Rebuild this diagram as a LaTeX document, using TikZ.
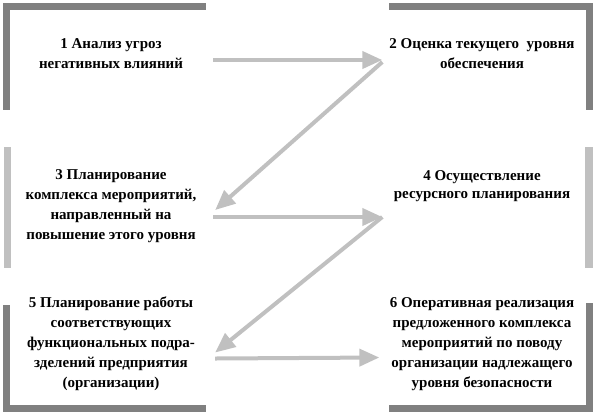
\documentclass[tikz,border=0pt]{standalone}
\usepackage{fontspec}
\setmainfont{Liberation Serif}
\usetikzlibrary{arrows.meta}
\definecolor{lightgrey}{RGB}{192,192,192}
\definecolor{checkgrey}{RGB}{128,128,128}
\tikzset{
  frame/.style={minimum width=203pt, inner sep=0pt},
  label/.style={align=center, font=\fontsize{15}{20}\selectfont\bfseries},
  hatch/.style={fill=checkgrey, draw=none},
  solid bar/.style={fill=lightgrey, draw=none},
  arr/.style={draw=lightgrey, line width=4pt,
    -{Triangle[length=20pt,width=17pt,fill=lightgrey]}}
}
\begin{document}
\begin{tikzpicture}[x=1pt,y=-1pt]
  \useasboundingbox (0,0) rectangle (596,416);
  % frames of the six steps
  \node[frame, minimum height=107pt] (f1) at (104.5,56.5) {};
  \node[frame, minimum height=107pt] (f2) at (491,56.5) {};
  \node[frame, minimum height=121pt] (f3) at (104.5,207.5) {};
  \node[frame, minimum height=121pt] (f4) at (491,207.5) {};
  \node[frame, minimum height=107pt] (f5) at (104.5,358.5) {};
  \node[frame, minimum height=109pt] (f6) at (491,357.5) {};
  % borders
  \fill[hatch] (f1.north west) rectangle ([xshift=7pt]f1.south west);
  \fill[hatch] (f1.north west) rectangle ([yshift=-7pt]f1.north east);
  \fill[hatch] (f2.north east) rectangle ([xshift=-7pt]f2.south east);
  \fill[hatch] (f2.north west) rectangle ([yshift=-7pt]f2.north east);
  \fill[solid bar] ([xshift=1pt]f3.north west) rectangle ([xshift=8pt]f3.south west);
  \fill[solid bar] (f4.north east) rectangle ([xshift=-8pt]f4.south east);
  \fill[hatch] (f5.north west) rectangle ([xshift=7pt]f5.south west);
  \fill[hatch] (f5.south west) rectangle ([yshift=7pt]f5.south east);
  \fill[hatch] (f6.north east) rectangle ([xshift=-7pt]f6.south east);
  \fill[hatch] (f6.south west) rectangle ([yshift=7pt]f6.south east);
  % texts
  \node[label] (t1) at (111,54) {1 Анализ угроз\\негативных влияний};
  \node[label] (t2) at (482,54) {2 Оценка текущего\ \ уровня\\обеспечения};
  \node[label] (t3) at (111,206) {3 Планирование\\комплекса мероприятий,\\направленный на\\повышение этого уровня};
  \node[label, font=\fontsize{15}{18}\selectfont\bfseries] (t4) at (482,186) {4 Осуществление\\ресурсного планирования};
  \node[label] (t5) at (111,344) {5 Планирование работы\\соответствующих\\функциональных подра-\\зделений предприятия\\(организации)};
  \node[label] (t6) at (482,344) {6 Оперативная реализация\\предложенного комплекса\\мероприятий по поводу\\организации надлежащего\\уровня безопасности};
  % zigzag of arrows
  \draw[arr] ([xshift=7pt,yshift=-3.5pt]f1.east) -- ([xshift=-7pt,yshift=-3.5pt]f2.west);
  \draw[arr] ([xshift=-7pt,yshift=-5.5pt]f2.west) -- ([xshift=9pt,yshift=-2.5pt]f3.east);
  \draw[arr] ([xshift=7pt,yshift=-9.5pt]f3.east) -- ([xshift=-7pt,yshift=-9.5pt]f4.west);
  \draw[arr] ([xshift=-7pt,yshift=-9.5pt]f4.west) -- ([xshift=9pt,yshift=6pt]f5.east);
  \draw[arr] ([xshift=9pt]f5.east) -- ([xshift=-10pt]f6.west);
\end{tikzpicture}
\end{document}
